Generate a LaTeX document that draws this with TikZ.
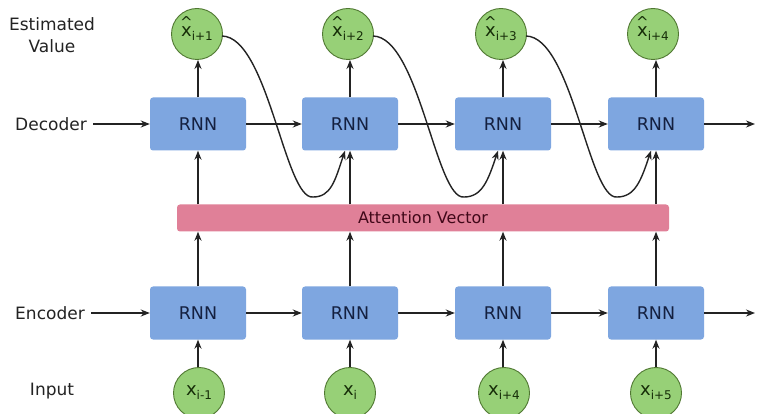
\documentclass[tikz,border=0pt]{standalone}
\usepackage{fontspec}
\setmainfont{DejaVu Sans}
\usetikzlibrary{arrows.meta,calc}
\definecolor{rnnblue}{RGB}{126,166,224}
\definecolor{rnntext}{RGB}{20,32,64}
\definecolor{attpink}{RGB}{224,128,152}
\definecolor{atttext}{RGB}{65,8,25}
\definecolor{cgreen}{RGB}{151,208,119}
\definecolor{cgreenline}{RGB}{80,120,50}
\definecolor{ctext}{RGB}{22,45,8}
\definecolor{linec}{RGB}{35,35,35}
\newcommand{\mysub}[1]{\raisebox{-4pt}{\fontsize{12}{12}\selectfont #1}}
\newcommand{\hatx}{\ooalign{x\cr\hidewidth\raisebox{9pt}{\fontsize{15}{15}\selectfont\char`\^}\hidewidth\cr}}
\tikzset{
  rnnbox/.style={rectangle, rounded corners=3pt, fill=rnnblue, minimum width=96pt, minimum height=53pt, inner sep=0pt, text=rnntext, font=\fontsize{17.5}{20}\selectfont},
  valnode/.style={circle, fill=cgreen, draw=cgreenline, line width=0.9pt, minimum size=51pt, inner sep=0pt, text=ctext, font=\fontsize{18}{20}\selectfont},
  lbl/.style={text=linec, font=\fontsize{17}{22}\selectfont, align=center},
  arr/.style={draw=linec, line width=1.5pt, -{Stealth[length=9pt,width=7pt]}},
  curvearr/.style={draw=linec, line width=1.4pt, -{Stealth[length=9pt,width=7pt]}}
}
\begin{document}
\begin{tikzpicture}[x=1pt,y=-1pt]
\useasboundingbox (0,0) rectangle (758,414);
\fill[white] (0,0) rectangle (758,414);

% labels
\node[lbl] (lest) at (52,35) {Estimated\\Value};
\node[lbl] (ldec) at (51,124) {Decoder};
\node[lbl] (lenc) at (50,313) {Encoder};
\node[lbl] (linp) at (52,391) {Input};

% attention vector
\node[rectangle, rounded corners=3pt, fill=attpink, minimum width=492pt, minimum height=27pt, inner sep=0pt, text=atttext, font=\fontsize{16}{18}\selectfont] (att) at (423,218) {Attention Vector};

% columns
\node[rnnbox] (d1) at (198,124) {RNN};
\node[rnnbox] (d2) at (350,124) {RNN};
\node[rnnbox] (d3) at (503,124) {RNN};
\node[rnnbox] (d4) at (656,124) {RNN};
\node[rnnbox] (e1) at (198,313) {RNN};
\node[rnnbox] (e2) at (350,313) {RNN};
\node[rnnbox] (e3) at (503,313) {RNN};
\node[rnnbox] (e4) at (656,313) {RNN};

\node[valnode] (t1) at (197,34) {\hatx\mysub{i+1}};
\node[valnode] (t2) at (348,34) {\hatx\mysub{i+2}};
\node[valnode] (t3) at (501,34) {\hatx\mysub{i+3}};
\node[valnode] (t4) at (653,34) {\hatx\mysub{i+4}};

\node[valnode] (b1) at (199,393) {x\mysub{i-1}};
\node[valnode] (b2) at (350,393) {x\mysub{i}};
\node[valnode] (b3) at (504,393) {x\mysub{i+4}};
\node[valnode] (b4) at (656,393) {x\mysub{i+5}};

\coordinate (decend) at (755,124);
\coordinate (encend) at (755,313);

% horizontal arrows
\draw[arr] (ldec.east) ++(3,0) -- (d1.west);
\draw[arr] (d1) -- (d2);
\draw[arr] (d2) -- (d3);
\draw[arr] (d3) -- (d4);
\draw[arr] (d4.east) -- (decend);
\draw[arr] (lenc.east) ++(3,0) -- (e1.west);
\draw[arr] (e1) -- (e2);
\draw[arr] (e2) -- (e3);
\draw[arr] (e3) -- (e4);
\draw[arr] (e4.east) -- (encend);

% vertical arrows
\foreach \i in {1,2,3,4}{
  \draw[arr] (d\i.north) -- (d\i.north |- t\i.south);
  \draw[arr] (d\i.south |- att.north) -- (d\i.south);
  \draw[arr] (e\i.north) -- (e\i.north |- att.south);
  \draw[arr] (e\i.south |- b\i.north) -- (e\i.south);
}

% feedback curves
\foreach \i/\j in {1/2,2/3,3/4}{
  \coordinate (s\i) at ($(t\i.center)+(25,2)$);
  \coordinate (m\i) at ($(t\i.center)+(116,163)$);
  \coordinate (f\i) at ($(d\j.south)+(-5,0)$);
  \draw[curvearr] (s\i) .. controls ($(s\i)+(46,1)$) and ($(m\i)+(-28,3)$) .. (m\i)
     .. controls ($(m\i)+(18,0)$) and ($(f\i)+(-10,30)$) .. (f\i);
}
\end{tikzpicture}
\end{document}
